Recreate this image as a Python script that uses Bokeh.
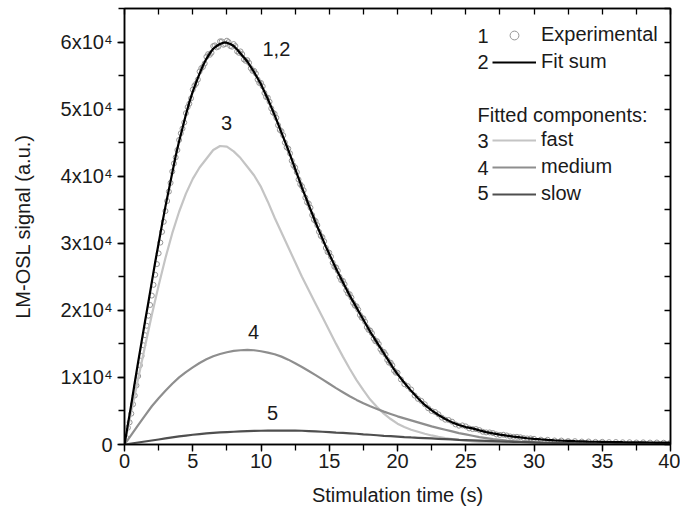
import numpy as np
from bokeh.plotting import figure
from bokeh.models import (LinearAxis, SingleIntervalTicker, CustomJSTickFormatter, Range1d,
                          Legend, LegendItem, Label)
from bokeh.embed import file_html
from bokeh.resources import INLINE

# ---------------- data ----------------
# fitted components, every 0.5 s from 0 to 40 s
t_comp = [0.5 * i for i in range(81)]
fast = [0, 4900, 9800, 14600, 19300, 23700, 27800, 31500, 34700, 37400,
        39600, 41300, 42600, 43900, 44500, 44400, 43700, 42700, 41400, 40100,
        38400, 36200, 33800, 31600, 29400, 27200, 25000, 23000, 21000, 19000,
        17000, 15000, 13100, 11300, 9600, 8100, 6700, 5600, 4600, 3800,
        3100, 2600, 2200, 1900, 1600, 1350, 1150, 970, 800, 680,
        560, 460, 380, 310, 250, 200, 160, 120, 100, 80,
        60, 45, 35, 25, 20, 15, 10, 7, 5, 3,
        2, 1, 0, 0, 0, 0, 0, 0, 0, 0,
        0]
medium = [0, 1450, 2900, 4300, 5700, 6900, 8000, 9050, 10000, 10800,
          11500, 12150, 12700, 13150, 13500, 13750, 13950, 14050, 14100, 14050,
          13900, 13700, 13450, 13100, 12650, 12100, 11550, 10950, 10350, 9700,
          9050, 8400, 7800, 7200, 6650, 6150, 5700, 5300, 4900, 4550,
          4200, 3900, 3600, 3300, 3000, 2700, 2450, 2200, 1950, 1700,
          1500, 1300, 1100, 950, 800, 700, 600, 520, 450, 390,
          330, 290, 250, 210, 180, 160, 140, 120, 100, 90,
          80, 70, 60, 50, 40, 40, 30, 30, 20, 20,
          20]
slow = [0, 150, 300, 450, 600, 750, 900, 1050, 1200, 1330,
        1450, 1550, 1650, 1730, 1800, 1850, 1900, 1950, 2000, 2030,
        2050, 2070, 2080, 2080, 2080, 2070, 2050, 2000, 1950, 1900,
        1850, 1780, 1720, 1660, 1600, 1520, 1450, 1380, 1300, 1240,
        1180, 1110, 1050, 1000, 950, 900, 850, 800, 750, 700,
        660, 620, 580, 540, 500, 460, 430, 400, 370, 340,
        310, 280, 260, 240, 220, 200, 180, 160, 150, 130,
        120, 110, 100, 90, 80, 70, 60, 60, 50, 50,
        40]

# experimental channels: 0.125 s to 20 s, 0.25 s to 30 s, 0.5 s to 40 s
t_exp = ([0.125 * i for i in range(161)] + [20.25 + 0.25 * i for i in range(40)]
         + [30.5 + 0.5 * i for i in range(20)])
exp_signal = [0, 1000, 2500, 3300, 4600, 6000, 7300, 8800, 10200, 11800,
              13200, 14800, 16300, 17700, 19200, 20800, 22200, 23800, 25300, 26900,
              28500, 30100, 31700, 33200, 34800, 36300, 37700, 39000, 40700, 41900,
              42800, 43900, 45400, 46400, 47100, 48000, 49400, 50300, 50800, 51600,
              52900, 53500, 53800, 54400, 55600, 56100, 56300, 56800, 57800, 58200,
              58100, 58400, 59400, 59500, 59200, 59300, 60100, 60100, 59600, 59700,
              60200, 60000, 59400, 59300, 59700, 59400, 58600, 58400, 58600, 58200,
              57400, 57200, 57300, 56900, 56100, 55700, 55700, 55300, 54400, 53900,
              53900, 53400, 52400, 51800, 51700, 51100, 50100, 49500, 49300, 48700,
              47600, 46900, 46700, 46100, 45000, 44300, 44100, 43400, 42300, 41600,
              41300, 40600, 39500, 38800, 38500, 37900, 36800, 36100, 35900, 35300,
              34200, 33500, 33300, 32700, 31700, 31100, 30900, 30300, 29300, 28700,
              28600, 28000, 27100, 26500, 26400, 25900, 25000, 24500, 24400, 23900,
              23000, 22500, 22400, 21900, 21100, 20700, 20600, 20100, 19300, 18900,
              18800, 18300, 17500, 17100, 17000, 16600, 15800, 15400, 15400, 15000,
              14200, 13800, 13800, 13400, 12600, 12200, 12200, 11800, 11000, 10700,
              10700,
              9700, 9000, 8700, 8200, 7300, 6800, 6500, 6000, 5400, 5000,
              4850, 4500, 4000, 3700, 3650, 3400, 3000, 2800, 2850, 2700,
              2400, 2300, 2300, 2150, 1900, 1800, 1800, 1700, 1500, 1420,
              1450, 1350, 1200, 1140, 1150, 1080, 950, 900, 910, 850,
              720, 700, 600, 590, 510, 500, 440, 450, 390, 400,
              350, 370, 330, 340, 300, 320, 290, 300, 270, 280]

# fit sum: 0.25 s to 20 s, 0.5 s to 40 s
t_fit = [0.25 * i for i in range(81)] + [20.5 + 0.5 * i for i in range(40)]
fit_sum = [0, 3000, 6000, 9200, 12300, 15300, 18300, 21200, 24200, 27200,
           30000, 32800, 35500, 38000, 40500, 43000, 45200, 47200, 49200, 51000,
           52600, 54000, 55300, 56500, 57500, 58300, 59000, 59400, 59700, 59900,
           59900, 59700, 59400, 58900, 58300, 57700, 57100, 56300, 55500, 54600,
           53700, 52600, 51500, 50300, 49100, 47800, 46500, 45200, 43900, 42500,
           41100, 39700, 38300, 37000, 35700, 34400, 33100, 31900, 30700, 29500,
           28400, 27300, 26200, 25200, 24200, 23200, 22200, 21300, 20400, 19500,
           18600, 17700, 16800, 16000, 15200, 14400, 13600, 12800, 12000, 11200,
           10500,
           9200, 8000, 6900, 5900, 5100, 4400, 3800, 3300, 2900, 2600,
           2400, 2100, 1850, 1650, 1470, 1320, 1180, 1050, 930, 830,
           750, 680, 620, 570, 530, 490, 460, 430, 410, 390,
           370, 360, 340, 330, 320, 310, 300, 290, 280, 270]

y_tick_labels = ["0", "1x10\u2074", "2x10\u2074", "3x10\u2074", "4x10\u2074",
                 "5x10\u2074", "6x10\u2074"]
legend_top_numbers = ["1", "2"]
legend_comp_numbers = ["3", "4", "5"]

FONT = "Liberation Sans"
FS = "20px"
TXT = "#1a1a1a"

p = figure(width=680, height=516, output_backend="svg", toolbar_location=None,
           x_range=Range1d(0, 40), y_range=Range1d(0, 65000),
           min_border_left=124, min_border_right=10, min_border_top=8, min_border_bottom=72)
p.xgrid.visible = False
p.ygrid.visible = False
p.outline_line_color = "black"
p.outline_line_width = 1.5
p.background_fill_color = "white"

xa = p.xaxis[0]
xa.ticker = SingleIntervalTicker(interval=5, num_minor_ticks=2)
xa.axis_label = "Stimulation time (s)"
ya = p.yaxis[0]
ya.ticker = SingleIntervalTicker(interval=10000, num_minor_ticks=2)
ya.formatter = CustomJSTickFormatter(args=dict(labels=y_tick_labels),
                                     code="return labels[Math.round(tick/10000)];")
ya.axis_label = "LM-OSL signal (a.u.)"
for ax in (xa, ya):
    ax.axis_line_width = 1.5
    ax.major_tick_line_width = 1.3
    ax.minor_tick_line_width = 1.3
    ax.major_tick_in = 0
    ax.major_tick_out = 7
    ax.minor_tick_in = 0
    ax.minor_tick_out = 6
    ax.major_label_text_font = FONT
    ax.major_label_text_font_size = FS
    ax.major_label_text_color = TXT
    ax.axis_label_text_font = FONT
    ax.axis_label_text_font_size = FS
    ax.axis_label_text_font_style = "normal"
    ax.axis_label_text_color = TXT
xa.major_label_standoff = 2
xa.axis_label_standoff = 13
ya.major_label_standoff = 5
ya.axis_label_standoff = 24

# mirrored axes with inward ticks
blank = CustomJSTickFormatter(code="return '';")
top = LinearAxis(ticker=SingleIntervalTicker(interval=2.5, num_minor_ticks=0), formatter=blank)
right = LinearAxis(ticker=SingleIntervalTicker(interval=5000, num_minor_ticks=0), formatter=blank)
for ax in (top, right):
    ax.axis_line_width = 1.5
    ax.major_tick_line_width = 1.3
    ax.major_tick_in = 6
    ax.major_tick_out = 0
    ax.minor_tick_in = 0
    ax.minor_tick_out = 0
    ax.major_label_text_font_size = "0px"
    ax.major_label_standoff = 0
p.add_layout(top, "above")
p.add_layout(right, "right")

r_exp = p.scatter(t_exp, exp_signal, marker="circle", size=5, fill_color=None,
                  line_color="#959595", line_width=1)
r_fast = p.line(t_comp, fast, line_color="#c4c4c4", line_width=2.2)
r_med = p.line(t_comp, medium, line_color="#8e8e8e", line_width=2.2)
r_slow = p.line(t_comp, slow, line_color="#4f4f4f", line_width=2.2)
r_fit = p.line(t_fit, fit_sum, line_color="black", line_width=2.2)

def make_legend(items, loc):
    return Legend(items=items, location=loc, background_fill_alpha=0,
                  border_line_color=None, padding=0, margin=0, spacing=4,
                  glyph_width=44, glyph_height=22, label_height=22,
                  label_standoff=5, label_text_font=FONT, label_text_font_size=FS,
                  label_text_color=TXT)

leg1 = make_legend([LegendItem(label="Experimental", renderers=[r_exp]),
                    LegendItem(label="Fit sum", renderers=[r_fit])], (368, 371))
leg2 = make_legend([LegendItem(label="fast", renderers=[r_fast]),
                    LegendItem(label="medium", renderers=[r_med]),
                    LegendItem(label="slow", renderers=[r_slow])], (368, 239))
p.add_layout(leg1)
p.add_layout(leg2)

def lab(x, y, text, align="left"):
    p.add_layout(Label(x=x, y=y, text=text, text_font=FONT, text_font_size=FS,
                       text_color=TXT, text_align=align, text_baseline="middle"))

lab(25.86, 60970, legend_top_numbers[0])
lab(25.86, 56950, legend_top_numbers[1])
lab(25.86, 49050, "Fitted components:")
lab(25.86, 45320, legend_comp_numbers[0])
lab(25.86, 41290, legend_comp_numbers[1])
lab(25.86, 37420, legend_comp_numbers[2])

lab(10.11, 59030, "1,2")
lab(7.47, 48000, "3", "center")
lab(9.45, 16700, "4", "center")
lab(10.84, 4770, "5", "center")

open("out.html", "w").write(file_html(p, INLINE))
